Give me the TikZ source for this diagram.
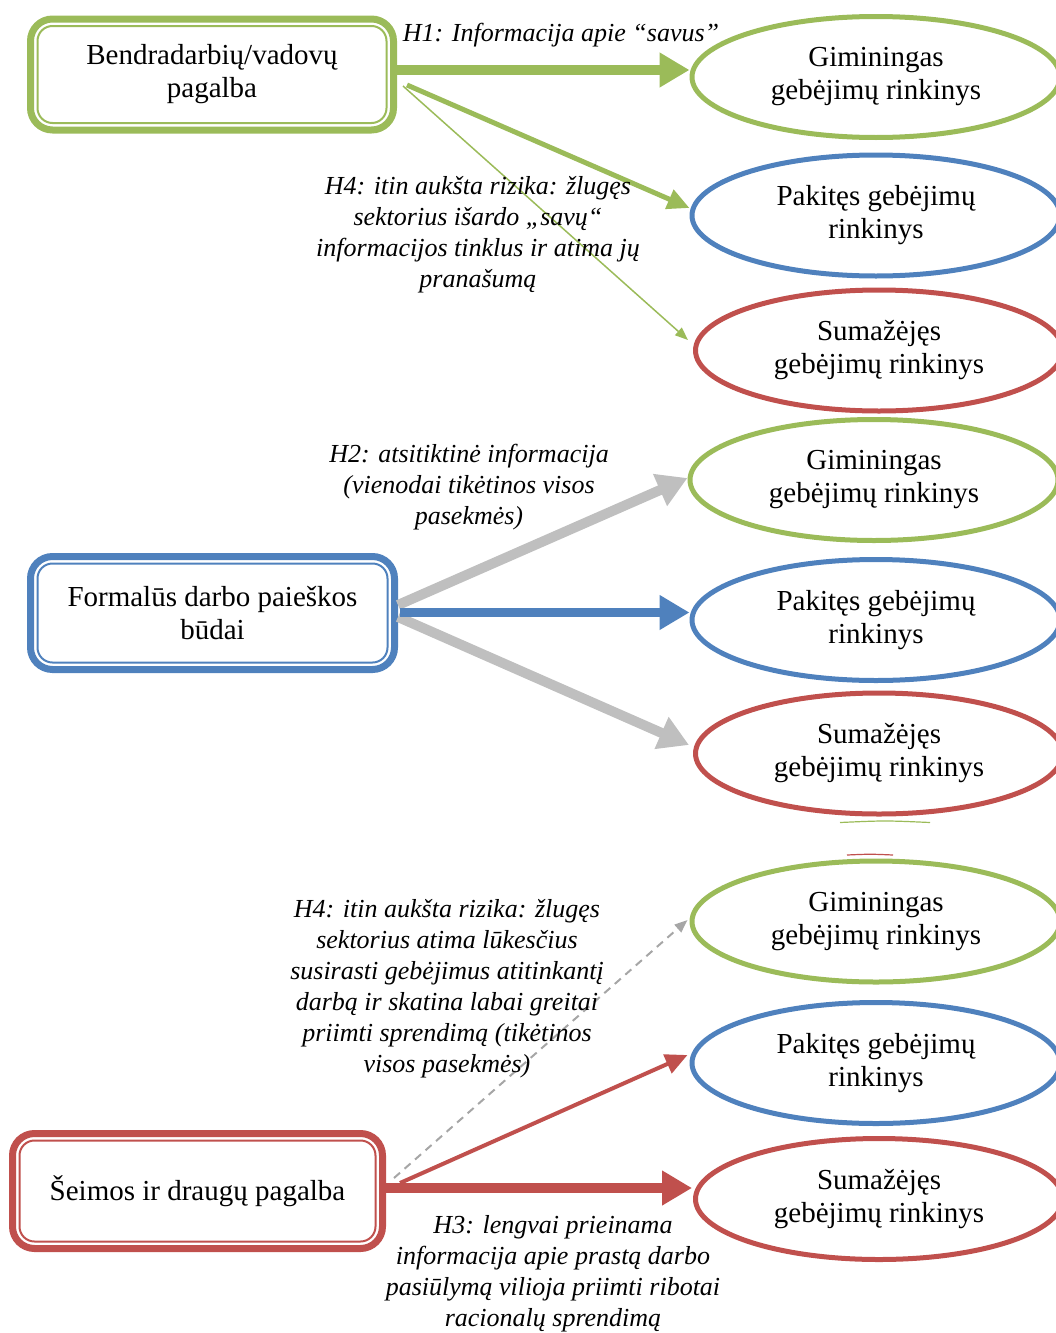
\documentclass[tikz,border=0pt]{standalone}
\usepackage{fontspec}
\setmainfont{Liberation Serif}
\usetikzlibrary{arrows.meta,shapes.geometric}
\definecolor{cgreen}{HTML}{9BBB59}
\definecolor{cblue}{HTML}{4F81BD}
\definecolor{cred}{HTML}{C0504D}
\definecolor{cgray}{HTML}{BFBFBF}
\definecolor{cdash}{HTML}{A6A6A6}
\begin{document}
\begin{tikzpicture}[x=1pt,y=-1pt,
  srcbox/.style={draw, line width=7pt, rounded corners=22pt, align=center,
    inner sep=0pt, font=\fontsize{29}{33}\selectfont},
  innerframe/.style={line width=2pt, rounded corners=15pt},
  skillset/.style={ellipse, draw, line width=5pt, minimum width=368pt,
    minimum height=121pt, align=center, inner sep=0pt,
    font=\fontsize{29}{33}\selectfont},
  note/.style={align=center, inner sep=0pt, font=\itshape\fontsize{26}{31}\selectfont},
  bigarrow/.style={line width=10pt, -{Triangle[length=30pt,width=33pt]}},
  midarrow/.style={line width=5pt, -{Triangle[length=22pt,width=20pt]}},
  thinarrow/.style={line width=1.5pt, -{Triangle[length=13pt,width=10pt]}},
  dasharrow/.style={line width=2pt, dash pattern=on 8pt off 6pt,
    -{Triangle[length=13pt,width=10pt]}}
]
\useasboundingbox (0,0) rectangle (1056,1333);

% source boxes with thick outer frame and thin inner frame
\node[srcbox, draw=cgreen, minimum width=363pt, minimum height=111pt]
  (b1) at (212,74.5) {Bendradarbių/vadovų\\pagalba};
\node[srcbox, draw=cblue, minimum width=364pt, minimum height=113pt]
  (b2) at (212.5,613) {Formalūs darbo paieškos\\būdai};
\node[srcbox, draw=cred, minimum width=370pt, minimum height=115pt]
  (b3) at (197.5,1191) {Šeimos ir draugų pagalba};
\draw[innerframe, draw=cgreen] ([xshift=10.5pt,yshift=-10.5pt]b1.north west) rectangle ([xshift=-10.5pt,yshift=10.5pt]b1.south east);
\draw[innerframe, draw=cblue] ([xshift=10.5pt,yshift=-10.5pt]b2.north west) rectangle ([xshift=-10.5pt,yshift=10.5pt]b2.south east);
\draw[innerframe, draw=cred] ([xshift=10.5pt,yshift=-10.5pt]b3.north west) rectangle ([xshift=-10.5pt,yshift=10.5pt]b3.south east);

% outcome ellipses
\node[skillset, draw=cgreen] (g1) at (876,77)   {Giminingas\\gebėjimų rinkinys};
\node[skillset, draw=cblue]  (p1) at (876,215.5) {Pakitęs gebėjimų\\rinkinys};
\node[skillset, draw=cred, minimum width=367pt] (s1) at (879,350.5) {Sumažėjęs\\gebėjimų rinkinys};

\node[skillset, draw=cgreen] (g2) at (874,480)   {Giminingas\\gebėjimų rinkinys};
\node[skillset, draw=cblue]  (p2) at (876,620)   {Pakitęs gebėjimų\\rinkinys};
\node[skillset, draw=cred, minimum width=367pt] (s2) at (879,753.5) {Sumažėjęs\\gebėjimų rinkinys};

\node[skillset, draw=cgreen] (g3) at (876,921.5) {Giminingas\\gebėjimų rinkinys};
\node[skillset, draw=cblue]  (p3) at (876,1063)  {Pakitęs gebėjimų\\rinkinys};
\node[skillset, draw=cred, minimum width=367pt] (s3) at (879,1199) {Sumažėjęs\\gebėjimų rinkinys};

% faint edges between the second and third groups
\draw[cgreen, line width=1.2pt] (840,822.5) .. controls (885,820.5) .. (930,822.5);
\draw[cred, line width=1.2pt] (847,855) .. controls (870,854) .. (893,855);

% first group of connectors
\draw[bigarrow, cgreen] ([yshift=4.5pt]b1.east) -- ([yshift=7pt]g1.west);
\draw[midarrow, cgreen] ([xshift=10pt,yshift=-10.5pt]b1.east) -- ([yshift=7.5pt]p1.west);
\draw[thinarrow, cgreen] ([xshift=6pt,yshift=-11.5pt]b1.east) -- ([xshift=-5pt,yshift=10.5pt]s1.west);

% second group of connectors
\draw[bigarrow, cgray] ([yshift=8pt]b2.east) -- ([yshift=2pt]g2.west);
\draw[bigarrow, cgray] ([yshift=-4pt]b2.east) -- ([xshift=-4pt,yshift=8.5pt]s2.west);
\draw[bigarrow, cblue, line width=9pt] ([xshift=2pt,yshift=0.5pt]b2.east) -- ([yshift=7.5pt]p2.west);

% third group of connectors
\draw[dasharrow, cdash] ([xshift=8pt,yshift=13pt]b3.east) -- ([xshift=-2pt,yshift=1.5pt]g3.west);
\draw[midarrow, cred, line width=4pt] ([xshift=14pt,yshift=8pt]b3.east) -- ([xshift=-2pt,yshift=8pt]p3.west);
\draw[bigarrow, cred] ([yshift=3pt]b3.east) -- ([xshift=-1pt,yshift=11pt]s3.west);

% hypothesis notes
\node[note] (h1) at (561,35) {H1: Informacija apie “savus”};
\node[note] (h4a) at (478,235) {H4: itin aukšta rizika: žlugęs\\sektorius išardo „savų“\\informacijos tinklus ir atima jų\\pranašumą};
\node[note] (h2) at (469,487) {H2: atsitiktinė informacija\\(vienodai tikėtinos visos\\pasekmės)};
\node[note] (h4b) at (447,989) {H4: itin aukšta rizika: žlugęs\\sektorius atima lūkesčius\\susirasti gebėjimus atitinkantį\\darbą ir skatina labai greitai\\priimti sprendimą (tikėtinos\\visos pasekmės)};
\node[note] (h3) at (553,1273.5) {H3: lengvai prieinama\\informacija apie prastą darbo\\pasiūlymą vilioja priimti ribotai\\racionalų sprendimą};
\end{tikzpicture}
\end{document}
